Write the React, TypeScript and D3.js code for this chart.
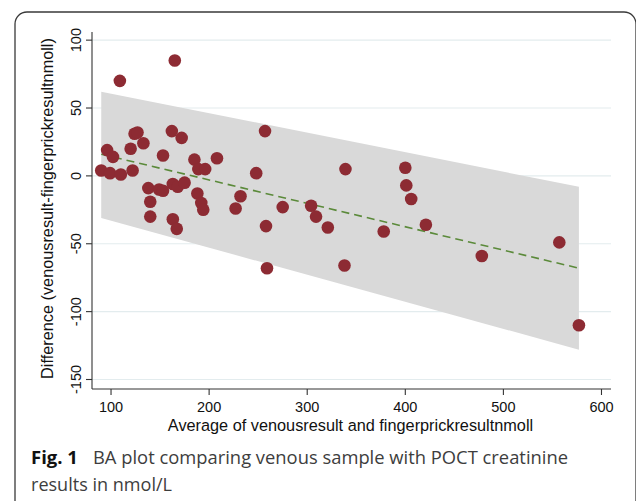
import * as d3 from "d3";

// Bland-Altman: average vs difference (venous - fingerprick), nmol/L
const avgValues = [
  90, 96, 102, 99, 110, 109, 165, 120, 124, 127, 122, 133, 153, 162, 172, 185, 189, 196, 208,
  138, 149, 153, 140, 140, 163, 168, 175, 163, 167, 188, 192, 194, 232, 227, 248, 257, 258,
  259, 275, 304, 309, 321, 339, 338, 378, 400, 401, 406, 421, 478, 557, 577,
];
const diffValues = [
  4, 19, 14, 2, 1, 70, 85, 20, 31, 32, 4, 24, 15, 33, 28, 12, 5, 5, 13,
  -9, -10, -11, -19, -30, -6, -8, -5, -32, -39, -13, -20, -25, -15, -24, 2, 33, -37,
  -68, -23, -22, -30, -38, 5, -66, -41, 6, -7, -17, -36, -59, -49, -110,
];

// regression of difference on average, with limits of agreement
const bandX = [90, 577];
const meanLine = [16, -68];
const upperLimit = [62, -8];
const lowerLimit = [-31, -128];

const xTicks = [100, 200, 300, 400, 500, 600];
const yTicks = [100, 50, 0, -50, -100, -150];

const xTitle = "Average of venousresult and fingerprickresultnmoll";
const yTitle = "Difference (venousresult-fingerprickresultnmoll)";
const captionBold = "Fig. 1";
const captionLine1 = "BA plot comparing venous sample with POCT creatinine";
const captionLine2 = "results in nmol/L";

const W = 636;
const H = 501;
const plot = { left: 92, right: 611, top: 32, bottom: 389 };
const axisFont = "'Liberation Sans', Arial, Helvetica, sans-serif";
const capFont = "'Open Sans', 'Noto Sans', sans-serif";

export default function App() {
  const x = d3.scaleLinear().domain([80.6, 609.7]).range([plot.left, plot.right]);
  const y = d3.scaleLinear().domain([-157, 106]).range([plot.bottom, plot.top]);

  const band = bandX.map((v, i) => [v, upperLimit[i]] as [number, number])
    .concat(bandX.map((v, i) => [v, lowerLimit[i]] as [number, number]).reverse());
  const area = d3.line<[number, number]>().x(d => x(d[0])).y(d => y(d[1]));
  const fit = d3.line<number>().x((_, i) => x(bandX[i])).y(d => y(d));

  return (
    <svg width={W} height={H} style={{ position: "absolute", left: 0, top: 0, background: "#fff" }}>
      {/* frame */}
      <path d={`M15,${H} V24 A12,12 0 0 1 27,12 H624 A12,12 0 0 1 636,24 V${H}`}
        fill="none" stroke="#3a3a3a" strokeWidth={1.3} />

      {/* grid */}
      {yTicks.map(t => (
        <line key={"g" + t} x1={plot.left} x2={plot.right} y1={y(t)} y2={y(t)}
          stroke="#e3ecee" strokeWidth={1.2} />
      ))}

      <path d={area(band) + "Z"} fill="#d9d9d9" />
      <path d={fit(meanLine)!} fill="none" stroke="#5b8a3a" strokeWidth={1.6} strokeDasharray="8,5" />

      {avgValues.map((v, i) => (
        <circle key={i} cx={x(v)} cy={y(diffValues[i])} r={6.3} fill="#8d2b33" />
      ))}

      {/* axes */}
      <line x1={plot.left} x2={plot.left} y1={plot.top} y2={plot.bottom} stroke="#333" strokeWidth={1.1} />
      <line x1={plot.left} x2={plot.right} y1={plot.bottom} y2={plot.bottom} stroke="#333" strokeWidth={1.1} />
      {yTicks.map(t => (
        <g key={"y" + t}>
          <line x1={plot.left - 6} x2={plot.left} y1={y(t)} y2={y(t)} stroke="#333" strokeWidth={1.1} />
          <text transform={`translate(81,${y(t)}) rotate(-90)`} textAnchor="middle"
            fontFamily={axisFont} fontSize={14.5} fill="#111">{t}</text>
        </g>
      ))}
      {xTicks.map(t => (
        <g key={"x" + t}>
          <line x1={x(t)} x2={x(t)} y1={plot.bottom} y2={plot.bottom + 6} stroke="#333" strokeWidth={1.1} />
          <text x={x(t)} y={411.5} textAnchor="middle" fontFamily={axisFont} fontSize={14.5} fill="#111">{t}</text>
        </g>
      ))}
      <text x={(167 + 534) / 2} y={431} textAnchor="middle" fontFamily={axisFont} fontSize={16.3} fill="#111">
        {xTitle}
      </text>
      <text transform={`translate(53,${(35 + 382) / 2}) rotate(-90)`} textAnchor="middle"
        fontFamily={axisFont} fontSize={16.3} fill="#111">{yTitle}</text>

      {/* caption */}
      <text x={31} y={464} fontFamily={capFont} fontSize={18.5} fontWeight="bold" fill="#111">{captionBold}</text>
      <text x={93} y={464} fontFamily={capFont} fontSize={18.5} fill="#3d3d3d"
        textLength={475} lengthAdjust="spacingAndGlyphs">{captionLine1}</text>
      <text x={31} y={491} fontFamily={capFont} fontSize={18.5} fill="#3d3d3d"
        textLength={141} lengthAdjust="spacingAndGlyphs">{captionLine2}</text>
    </svg>
  );
}
